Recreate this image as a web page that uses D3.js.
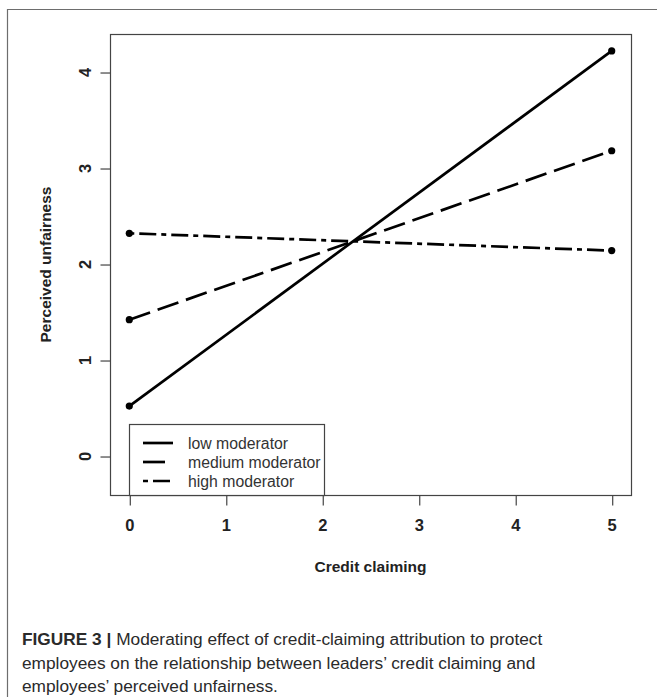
<!DOCTYPE html>
<html>
<head>
<meta charset="utf-8">
<script src="https://cdn.jsdelivr.net/npm/d3@7"></script>
<style>
  html, body { margin: 0; padding: 0; background: #fff; }
  svg { display: block; }
</style>
</head>
<body>
<svg id="chart" width="657" height="697"></svg>
<script>
const xValues = [0, 5];
const seriesNames = ["low moderator", "medium moderator", "high moderator"];
const lowValues = [0.52, 4.22];
const mediumValues = [1.42, 3.18];
const highValues = [2.32, 2.14];
const xTicks = [0, 1, 2, 3, 4, 5];
const yTicks = [0, 1, 2, 3, 4];
const xTitle = "Credit claiming";
const yTitle = "Perceived unfairness";
const captionBold = "FIGURE 3 |";
const captionLines = [
  " Moderating effect of credit-claiming attribution to protect",
  "employees on the relationship between leaders\u2019 credit claiming and",
  "employees\u2019 perceived unfairness."
];

const dashes = ["none", "22,8", "5,5,17,5"];
const series = seriesNames.map((name, i) => ({
  name, dash: dashes[i],
  values: [lowValues, mediumValues, highValues][i].map((v, j) => ({ x: xValues[j], y: v }))
}));

const FONT = "Liberation Sans, Arial, sans-serif";
const svg = d3.select("#chart");
const plot = { left: 110, right: 631, top: 34, bottom: 495 };

const x = d3.scaleLinear().domain([-0.2, 5.2]).range([plot.left, plot.right]);
const y = d3.scaleLinear().domain([-0.406, 4.396]).range([plot.bottom, plot.top]);

// outer figure frame (left and top)
svg.append("path")
  .attr("d", "M7.5,697 L7.5,9.5 L657,9.5")
  .attr("fill", "none").attr("stroke", "#6d6d6d").attr("stroke-width", 1.2);

// plot box
svg.append("rect")
  .attr("x", plot.left + 0.5).attr("y", plot.top + 0.5)
  .attr("width", plot.right - plot.left).attr("height", plot.bottom - plot.top)
  .attr("fill", "none").attr("stroke", "#444").attr("stroke-width", 1.2);

// axes (ticks via d3 axis, labels from the same scales)
const xAxis = d3.axisBottom(x).tickValues(xTicks).tickSize(10).tickFormat("");
const gx = svg.append("g").attr("transform", `translate(0.5,${plot.bottom + 0.5})`).call(xAxis);
gx.select(".domain").remove();
gx.selectAll("line").attr("stroke", "#444").attr("stroke-width", 1.2);
svg.append("g").selectAll("text").data(xTicks).enter().append("text")
  .attr("x", d => x(d) + 0.5).attr("y", 525)
  .attr("text-anchor", "middle").attr("dominant-baseline", "central")
  .style("font-family", FONT).style("font-size", "16.5px").style("font-weight", "bold")
  .attr("fill", "#222").text(d => d);

const yAxis = d3.axisLeft(y).tickValues(yTicks).tickSize(10).tickFormat("");
const gy = svg.append("g").attr("transform", `translate(${plot.left + 0.5},0.5)`).call(yAxis);
gy.select(".domain").remove();
gy.selectAll("line").attr("stroke", "#444").attr("stroke-width", 1.2);
svg.append("g").selectAll("text").data(yTicks).enter().append("text")
  .attr("transform", d => `translate(85,${y(d) + 0.5}) rotate(-90)`)
  .attr("text-anchor", "middle").attr("dominant-baseline", "central")
  .style("font-family", FONT).style("font-size", "16.5px").style("font-weight", "bold")
  .attr("fill", "#222").text(d => d);

// axis titles
svg.append("text")
  .attr("x", (plot.left + plot.right) / 2).attr("y", 566)
  .attr("text-anchor", "middle").attr("dominant-baseline", "central")
  .style("font-family", FONT).style("font-size", "15.5px").style("font-weight", "bold")
  .attr("fill", "#222")
  .text(xTitle);
svg.append("text")
  .attr("transform", `translate(45,${(plot.top + plot.bottom) / 2}) rotate(-90)`)
  .attr("text-anchor", "middle").attr("dominant-baseline", "central")
  .style("font-family", FONT).style("font-size", "15.5px").style("font-weight", "bold")
  .attr("fill", "#222")
  .text(yTitle);

// lines
const line = d3.line().x(d => x(d.x)).y(d => y(d.y));
series.forEach(s => {
  svg.append("path").datum(s.values)
    .attr("d", line).attr("fill", "none")
    .attr("stroke", "#000").attr("stroke-width", 2.7)
    .attr("stroke-dasharray", s.dash === "none" ? null : s.dash);
  svg.selectAll(null).data(s.values).enter().append("circle")
    .attr("cx", d => x(d.x)).attr("cy", d => y(d.y)).attr("r", 3.6)
    .attr("fill", "#000");
});

// legend
const lg = svg.append("g");
lg.append("rect").attr("x", 129.5).attr("y", 424.5).attr("width", 195).attr("height", 71)
  .attr("fill", "#fff").attr("stroke", "#444").attr("stroke-width", 1.2);
series.forEach((s, i) => {
  const ly = 443 + i * 19;
  lg.append("line").attr("x1", 143).attr("x2", 173).attr("y1", ly).attr("y2", ly)
    .attr("stroke", "#000").attr("stroke-width", 2.7)
    .attr("stroke-dasharray", s.dash === "none" ? null : s.dash);
  lg.append("text").attr("x", 188).attr("y", ly).attr("dominant-baseline", "central")
    .style("font-family", FONT).style("font-size", "15.8px")
    .attr("fill", "#333").text(s.name);
});

// caption
const cap = svg.append("g")
  .style("font-family", FONT).style("font-size", "17.3px").attr("fill", "#2a2a2a");
const t1 = cap.append("text").attr("x", 22).attr("y", 645);
t1.append("tspan").style("font-weight", "bold").text(captionBold);
t1.append("tspan").text(captionLines[0]);
cap.append("text").attr("x", 22).attr("y", 669).text(captionLines[1]);
cap.append("text").attr("x", 22).attr("y", 692).text(captionLines[2]);
</script>
</body>
</html>
